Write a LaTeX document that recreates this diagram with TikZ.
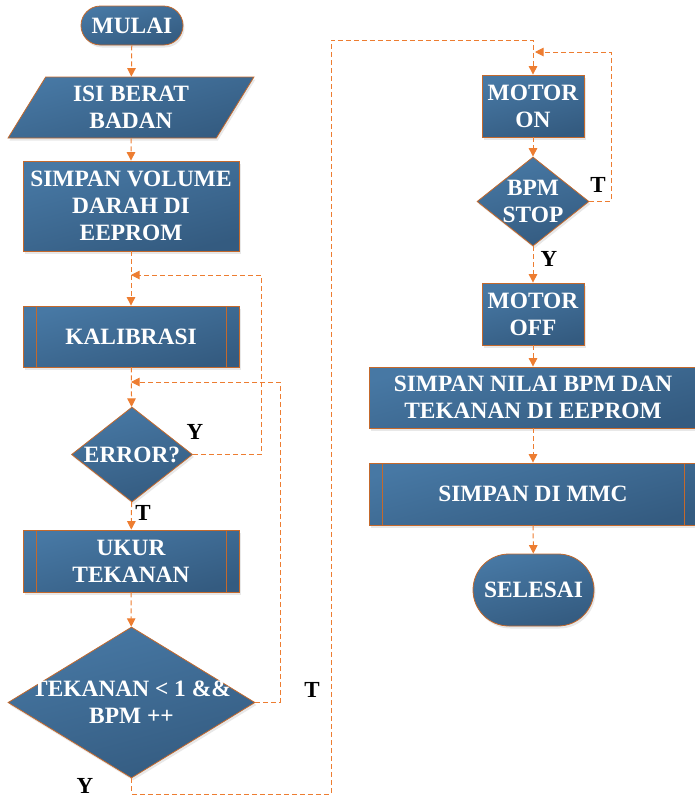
\documentclass[tikz,border=0pt]{standalone}
\usepackage{fontspec}
\setmainfont{Liberation Serif}
\usepackage{tikz}
\usetikzlibrary{shapes.geometric,shapes.misc,arrows.meta,shadows}
\definecolor{birumuda}{HTML}{4778A4}
\definecolor{birutua}{HTML}{345B80}
\definecolor{garis}{HTML}{C4692C}
\definecolor{oranye}{HTML}{ED7D31}
\newcommand{\hurufkotak}{\fontsize{23.4}{27}\selectfont\bfseries}

\begin{document}
\begin{tikzpicture}[x=1pt, y=-1pt,
  kotak/.style={draw=garis, line width=0.8pt, top color=birumuda, bottom color=birutua,
    shading angle=15, text=white, font=\hurufkotak, align=center, inner sep=0pt,
    drop shadow={opacity=0.18, shadow xshift=1.5pt, shadow yshift=-2.5pt}},
  subproses/.style={kotak, path picture={
    \draw[garis, line width=0.8pt]
      ([xshift=13pt]path picture bounding box.north west) -- ([xshift=13pt]path picture bounding box.south west)
      ([xshift=-13pt]path picture bounding box.north east) -- ([xshift=-13pt]path picture bounding box.south east);}},
  terminal/.style={kotak, rounded rectangle},
  keputusan/.style={kotak, diamond},
  teksd/.style={text=white, font=\hurufkotak, align=center},
  alur/.style={draw=oranye, line width=1pt, dash pattern=on 5pt off 3pt,
    -{Triangle[length=8.5pt,width=8.5pt]}},
  ket/.style={font=\fontsize{23}{26}\selectfont\bfseries, text=black}]
  \useasboundingbox (0,0) rectangle (694,798);

  % Kolom kiri
  \node[terminal, minimum width=102, minimum height=39] (mulai) at (132,25.5) {MULAI};
  \node[kotak, trapezium, trapezium left angle=59, trapezium right angle=121,
    trapezium stretches=true, minimum width=246, minimum height=61] (isi) at (131,107.5)
    {ISI BERAT\\BADAN};
  \node[kotak, minimum width=216, minimum height=90] (vol) at (131,206)
    {SIMPAN VOLUME\\DARAH DI\\EEPROM};
  \node[subproses, minimum width=216, minimum height=61] (kal) at (131,336.5) {KALIBRASI};
  \node[keputusan, minimum width=121, minimum height=95,
    label={[teksd]center:ERROR?}] (err) at (132,454.5) {};
  \node[subproses, minimum width=216, minimum height=62] (ukur) at (131,561)
    {UKUR\\TEKANAN};
  \node[keputusan, minimum width=247, minimum height=151,
    label={[teksd]center:TEKANAN < 1 \&\&\\BPM ++}] (cek) at (131.5,702.5) {};

  % Kolom kanan
  \node[kotak, minimum width=102, minimum height=62] (mon) at (533,106) {MOTOR\\ON};
  \node[keputusan, minimum width=112, minimum height=89,
    label={[teksd]center:BPM\\STOP}] (bpm) at (533,201.5) {};
  \node[kotak, minimum width=102, minimum height=62] (moff) at (533,314) {MOTOR\\OFF};
  \node[kotak, minimum width=328, minimum height=61] (nilai) at (533,397.5)
    {SIMPAN NILAI BPM DAN\\TEKANAN DI EEPROM};
  \node[subproses, minimum width=328, minimum height=62] (mmc) at (533,494) {SIMPAN DI MMC};
  \node[terminal, minimum width=121, minimum height=72] (selesai) at (533.5,590) {SELESAI};

  % Titik belok
  \coordinate (j1) at (131,275);
  \coordinate (r1) at (261,275);
  \coordinate (j2) at (131,382);
  \coordinate (r2) at (280,382);
  \coordinate (c1) at (331,794);
  \coordinate (c2) at (331,40);
  \coordinate (j3) at (535,52);
  \coordinate (r3) at (611,52);

  % Alur
  \draw[alur] (mulai) -- (isi);
  \draw[alur] (isi) -- (vol);
  \draw[alur] (vol) -- (kal);
  \draw[alur] (err.east) -| (r1) -- (j1);
  \draw[alur] (kal) -- (err);
  \draw[alur] (cek.east) -| (r2) -- (j2);
  \draw[alur] (err) -- (ukur);
  \draw[alur] (ukur) -- (cek);
  \draw[alur] (cek.south) |- (c1) -- (c2) -| (mon.north);
  \draw[alur] (mon) -- (bpm);
  \draw[alur] (bpm.east) -| (r3) -- (j3);
  \draw[alur] (bpm) -- (moff);
  \draw[alur] (moff) -- (nilai);
  \draw[alur] (nilai) -- (mmc);
  \draw[alur] (mmc) -- (selesai);

  % Keterangan
  \node[ket] (ly1) at (195,432) {Y};
  \node[ket] (lt1) at (143,513) {T};
  \node[ket] (lt2) at (312,690) {T};
  \node[ket] (ly2) at (85,786) {Y};
  \node[ket] (lt3) at (598,185) {T};
  \node[ket] (ly3) at (549,259) {Y};
\end{tikzpicture}
\end{document}
